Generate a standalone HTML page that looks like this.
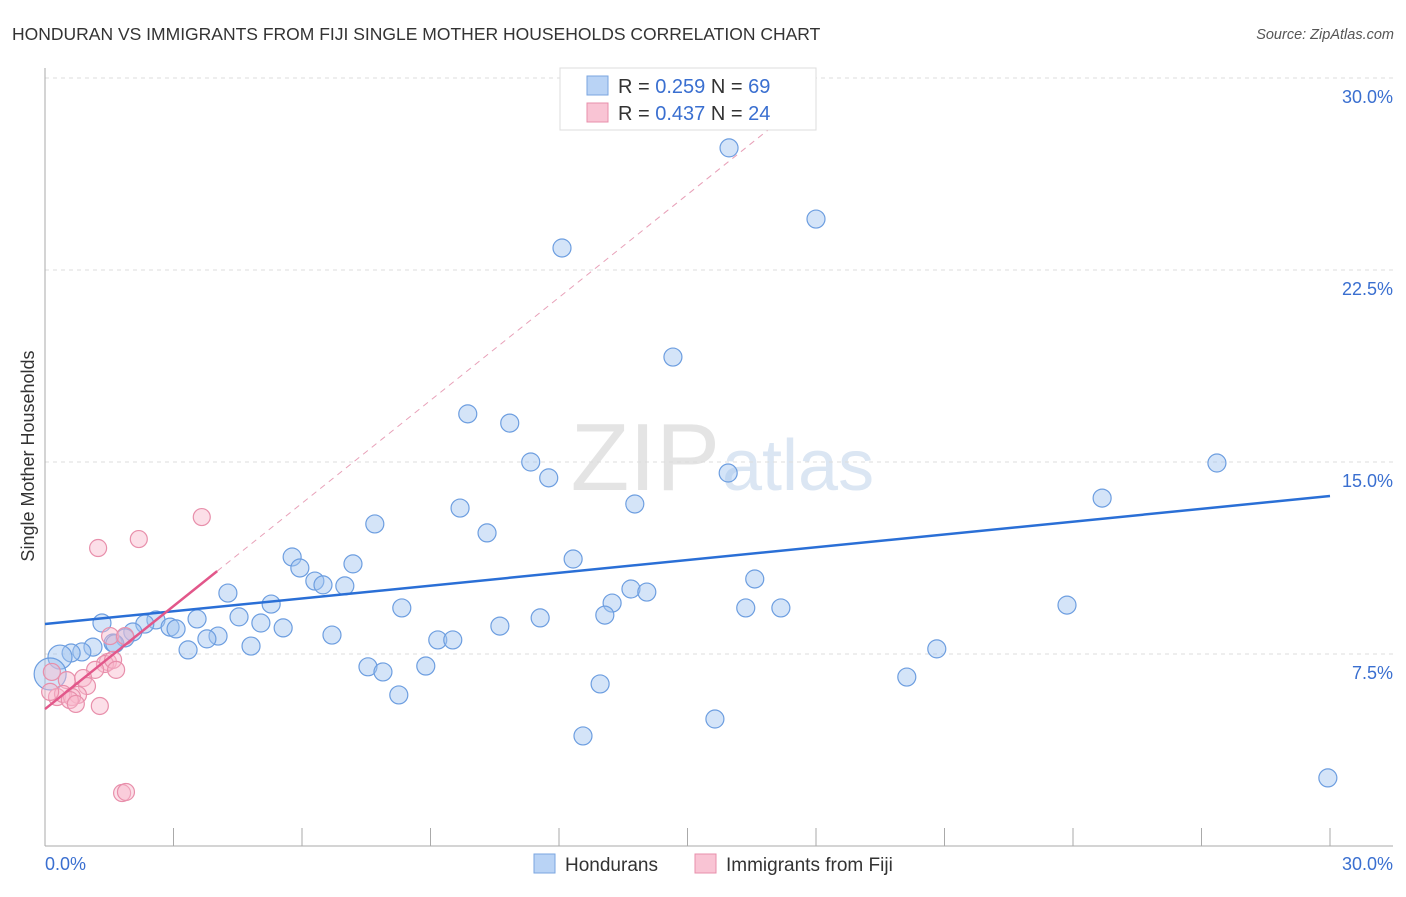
<!DOCTYPE html>
<html><head><meta charset="utf-8"><style>
body{margin:0;background:#fff;font-family:"Liberation Sans",sans-serif}
svg text{font-family:"Liberation Sans",sans-serif}
</style></head><body>
<svg id="c" width="1406" height="892">
<text x="12" y="40" font-size="17.5" fill="#333">HONDURAN VS IMMIGRANTS FROM FIJI SINGLE MOTHER HOUSEHOLDS CORRELATION CHART</text>
<text x="1394" y="39" font-size="14.5" fill="#555" text-anchor="end" font-style="italic">Source: ZipAtlas.com</text>
<text x="720" y="490" font-size="96" fill="#e4e4e4" text-anchor="end" font-family="Liberation Serif">ZIP</text>
<text x="722" y="490" font-size="72" fill="#dbe6f3">atlas</text>
<g id="grid"></g><g id="marks"></g>
<text transform="translate(34,456) rotate(-90)" font-size="18" fill="#333" text-anchor="middle">Single Mother Households</text>
<g>
<rect x="560" y="68" width="256" height="62" fill="#fff" stroke="#ddd"/>
<rect x="587" y="76" width="21" height="19" fill="#b9d3f5" stroke="#7aa6e0"/>
<rect x="587" y="103" width="21" height="19" fill="#f9c4d4" stroke="#e88fab"/>
<text x="618" y="93" font-size="20" fill="#333">R = <tspan fill="#3a6fd0">0.259</tspan>   N = <tspan fill="#3a6fd0">69</tspan></text>
<text x="618" y="120" font-size="20" fill="#333">R = <tspan fill="#3a6fd0">0.437</tspan>   N = <tspan fill="#3a6fd0">24</tspan></text>
</g>
<g>
<rect x="534" y="854" width="21" height="19" fill="#b9d3f5" stroke="#7aa6e0"/>
<text x="565" y="871" font-size="19" fill="#333">Hondurans</text>
<rect x="695" y="854" width="21" height="19" fill="#f9c4d4" stroke="#e88fab"/>
<text x="726" y="871" font-size="19" fill="#333">Immigrants from Fiji</text>
</g>
</svg>
<script>
const yTicks=[7.5,15,22.5,30];
const yTickLabels=["7.5%","15.0%","22.5%","30.0%"];
const xTickLabels=["0.0%","30.0%"];
const blueX=[15.97,18.0,12.07,14.66,9.87,10.85,11.34,11.76,15.95,27.36,24.68,13.77,9.69,7.7,10.32,12.33,5.77,5.95,7.19,6.3,6.49,7.0,4.27,16.57,13.68,14.05,13.24,5.28,8.33,13.07,16.36,17.18,23.86,11.56,4.53,3.55,2.59,1.33,5.04,5.56,2.92,3.06,10.62,2.33,2.05,4.04,3.78,6.7,9.17,9.52,1.87,1.59,1.12,0.86,0.61,0.35,4.81,3.34,20.82,7.54,7.89,8.89,20.12,12.96,8.26,15.64,12.56,29.95,0.12,1.63];
const blueY=[27.27,24.49,23.36,19.1,16.88,16.52,15.0,14.38,14.57,14.96,13.59,13.36,13.2,12.58,12.23,11.21,11.29,10.86,11.02,10.35,10.2,10.16,9.88,10.43,10.04,9.92,9.49,9.45,9.3,9.02,9.3,9.3,9.41,8.91,8.95,8.87,8.83,8.71,8.71,8.52,8.55,8.48,8.59,8.67,8.36,8.2,8.09,8.24,8.05,8.05,8.13,7.93,7.77,7.58,7.54,7.38,7.81,7.66,7.7,7.0,6.8,7.03,6.6,6.33,5.9,4.96,4.3,2.66,6.72,7.9];
const blueR=[9,9,9,9,9,9,9,9,9,9,9,9,9,9,9,9,9,9,9,9,9,9,9,9,9,9,9,9,9,9,9,9,9,9,9,9,9,9,9,9,9,9,9,9,9,9,9,9,9,9,9,9,9,9,9,12,9,9,9,9,9,9,9,9,9,9,9,9,16,9];
const pinkX=[3.66,2.19,1.24,1.52,1.87,1.47,1.4,1.59,1.17,1.66,0.51,0.89,0.98,0.77,0.28,0.42,0.63,0.58,0.72,1.28,1.8,1.89,0.12,0.16];
const pinkY=[12.85,11.99,11.64,8.2,8.2,7.19,7.11,7.27,6.88,6.88,6.48,6.56,6.25,5.9,5.82,5.94,5.82,5.7,5.55,5.47,2.07,2.11,6.02,6.8];
const blueTrend=[8.67,13.67];
const pinkTrend=[5.35,1.34];
const X=v=>45+v/30*1285, Y=v=>846-v/30*768;
const NS="http://www.w3.org/2000/svg";
const g=document.getElementById('grid'), m=document.getElementById('marks');
function mk(p,tag,a){const e=document.createElementNS(NS,tag);for(const k in a)e.setAttribute(k,a[k]);p.appendChild(e);return e;}
yTicks.forEach((t,i)=>{
const l=mk(g,'line',{x1:45,x2:1393,y1:Y(t),y2:Y(t),stroke:'#ddd','stroke-dasharray':'4,4'});


const tx=mk(g,'text',{x:1393,y:Y(t)+25,'font-size':18,fill:'#3a6fd0','text-anchor':'end'});tx.textContent=yTickLabels[i];


});
mk(g,'line',{x1:45,x2:45,y1:68,y2:846,stroke:'#aaa'});
mk(g,'line',{x1:45,x2:1393,y1:846,y2:846,stroke:'#aaa'});
for(let i=1;i<=10;i++){const x=X(i*3);mk(g,'line',{x1:x,x2:x,y1:828,y2:846,stroke:'#aaa'});}
[[0,'start',45],[1,'end',1393]].forEach(([i,a,x])=>{const t=mk(g,'text',{x:x,y:870,'font-size':18,fill:'#3a6fd0','text-anchor':a});t.textContent=xTickLabels[i];

});
blueX.forEach((v,i)=>{const c=mk(m,'circle',{cx:X(v),cy:Y(blueY[i]),r:blueR[i],fill:'rgba(160,196,240,0.45)',stroke:'#6d9ee0','stroke-width':1.2});

});
pinkX.forEach((v,i)=>{const c=mk(m,'circle',{cx:X(v),cy:Y(pinkY[i]),r:8.5,fill:'rgba(248,185,205,0.45)',stroke:'#e88fab','stroke-width':1.2});

});
let l=mk(m,'line',{x1:X(0),y1:Y(blueTrend[0]),x2:X(30),y2:Y(blueTrend[1]),stroke:'#2a6fd6','stroke-width':2.5});


const xe=(30-pinkTrend[0])/pinkTrend[1]*0.97;
l=mk(m,'line',{x1:X(4.02),y1:Y(pinkTrend[0]+pinkTrend[1]*4.02),x2:X(xe),y2:Y(pinkTrend[0]+pinkTrend[1]*xe),stroke:'#e8a0b8','stroke-width':1,'stroke-dasharray':'6,5'});


l=mk(m,'line',{x1:X(0),y1:Y(pinkTrend[0]),x2:X(4.02),y2:Y(pinkTrend[0]+pinkTrend[1]*4.02),stroke:'#e2578a','stroke-width':2.5});


</script>
</body></html>
